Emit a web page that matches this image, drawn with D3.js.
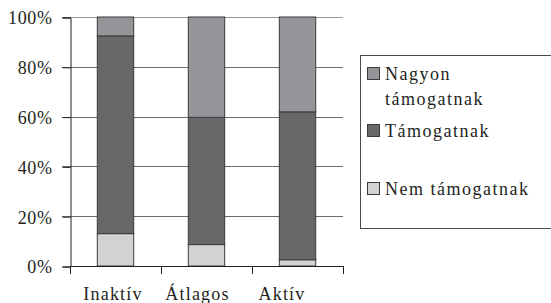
<!DOCTYPE html>
<html>
<head>
<meta charset="utf-8">
<script src="https://cdn.jsdelivr.net/npm/d3@7/dist/d3.min.js"></script>
<style>
  body { margin: 0; background: #fff; }
  svg text { font-family: "Liberation Serif", "Times New Roman", serif; fill: #231f20; }
</style>
</head>
<body>
<svg id="chart" width="551" height="303"></svg>
<script>
// Categories and stacked shares (percent)
const categories = ['Inaktív', 'Átlagos', 'Aktív'];
const seriesNames = ['Nem támogatnak', 'Támogatnak', 'Nagyon támogatnak'];
const nemTamogatnak = [13.0, 8.6, 2.5];
const tamogatnak = [79.4, 51.1, 59.4];
const nagyonTamogatnak = [7.6, 40.3, 38.1];
const yTicks = [0, 20, 40, 60, 80, 100];

const colors = {
  'Nem támogatnak': '#d1d2d4',
  'Támogatnak': '#68686b',
  'Nagyon támogatnak': '#939598'
};

const svg = d3.select('#chart');
const margin = { left: 70, top: 17, right: 343, bottom: 266 };

const rows = categories.map((c, i) => ({
  cat: c,
  'Nem támogatnak': nemTamogatnak[i],
  'Támogatnak': tamogatnak[i],
  'Nagyon támogatnak': nagyonTamogatnak[i]
}));
const stacked = d3.stack().keys(seriesNames)(rows);

const x = d3.scaleBand()
  .domain(categories)
  .range([margin.left, margin.right])
  .paddingInner(0.6)
  .paddingOuter(0.3);
const xOuter = d3.scaleBand()
  .domain(categories)
  .range([margin.left, margin.right]);
const y = d3.scaleLinear()
  .domain([0, 100])
  .range([margin.bottom, margin.top]);

// gridlines
svg.append('g')
  .selectAll('line')
  .data(yTicks.filter(d => d > 0))
  .enter()
  .append('line')
    .attr('x1', margin.left - 8)
    .attr('x2', margin.right)
    .attr('y1', d => Math.round(y(d)) + 0.5)
    .attr('y2', d => Math.round(y(d)) + 0.5)
    .attr('stroke', d => d == 100 ? '#9a9a9a' : '#6d6d6d')
    .attr('stroke-width', 1);

// bars
svg.append('g')
  .selectAll('g')
  .data(stacked)
  .enter()
  .append('g')
    .attr('fill', d => colors[d.key])
  .selectAll('rect')
  .data(d => d)
  .enter()
  .append('rect')
    .attr('x', d => x(d.data.cat))
    .attr('y', d => y(d[1]))
    .attr('width', x.bandwidth())
    .attr('height', d => y(d[0]) - y(d[1]))
    .attr('stroke', '#3a3a3a')
    .attr('stroke-width', 1);

// y axis
const yAxis = d3.axisLeft(y)
  .tickValues(yTicks)
  .tickSize(8)
  .tickPadding(10)
  .tickFormat(d => d + '%');
const gy = svg.append('g')
  .attr('transform', `translate(${margin.left + 0.5}, 0.5)`)
  .call(yAxis)
  .attr('font-family', null)
  .attr('font-size', null);
gy.select('.domain').attr('stroke', '#231f20');
gy.selectAll('.tick line').attr('stroke', '#231f20');
gy.selectAll('.tick text')
  .attr('font-size', 18)
  .attr('letter-spacing', 0.6)
  .attr('fill', '#231f20')
  .attr('dy', '0.35em');

// x axis (ticks at category boundaries)
const xBounds = categories.map(c => xOuter(c)).concat([margin.right]);
const gx = svg.append('g');
gx.append('line')
  .attr('x1', margin.left)
  .attr('x2', margin.right)
  .attr('y1', margin.bottom + 0.5)
  .attr('y2', margin.bottom + 0.5)
  .attr('stroke', '#231f20');
gx.selectAll('.xt')
  .data(xBounds)
  .enter()
  .append('line')
    .attr('x1', d => Math.round(d) + 0.5)
    .attr('x2', d => Math.round(d) + 0.5)
    .attr('y1', margin.bottom)
    .attr('y2', margin.bottom + 8)
    .attr('stroke', '#231f20');

const xLabel = d3.scalePoint()
  .domain(categories)
  .range([113, 282]);
gx.selectAll('text')
  .data(categories)
  .enter()
  .append('text')
    .attr('x', d => xLabel(d))
    .attr('y', 300)
    .attr('text-anchor', 'middle')
    .attr('font-size', 18)
    .attr('letter-spacing', 1.2)
    .text(d => d);

// legend
const legend = svg.append('g');
legend.append('rect')
  .attr('x', 360.5)
  .attr('y', 55.5)
  .attr('width', 200)
  .attr('height', 173)
  .attr('fill', 'none')
  .attr('stroke', '#4a4a4a');

const legendItems = [
  { key: 'Nagyon támogatnak', lines: ['Nagyon', 'támogatnak'], y: 80 },
  { key: 'Támogatnak', lines: ['Támogatnak'], y: 137 },
  { key: 'Nem támogatnak', lines: ['Nem támogatnak'], y: 195 }
];
const li = legend.selectAll('.li')
  .data(legendItems)
  .enter()
  .append('g');
li.append('rect')
  .attr('x', 367.5)
  .attr('y', d => d.y - 12.5)
  .attr('width', 12)
  .attr('height', 12)
  .attr('fill', d => colors[d.key])
  .attr('stroke', '#3a3a3a');
li.append('text')
  .attr('x', 385)
  .attr('y', d => d.y)
  .attr('font-size', 18)
  .attr('letter-spacing', 1.5)
  .selectAll('tspan')
  .data(d => d.lines)
  .enter()
  .append('tspan')
    .attr('x', 385)
    .attr('dy', (d, i) => i == 0 ? 0 : 25)
    .text(d => d);
</script>
</body>
</html>
